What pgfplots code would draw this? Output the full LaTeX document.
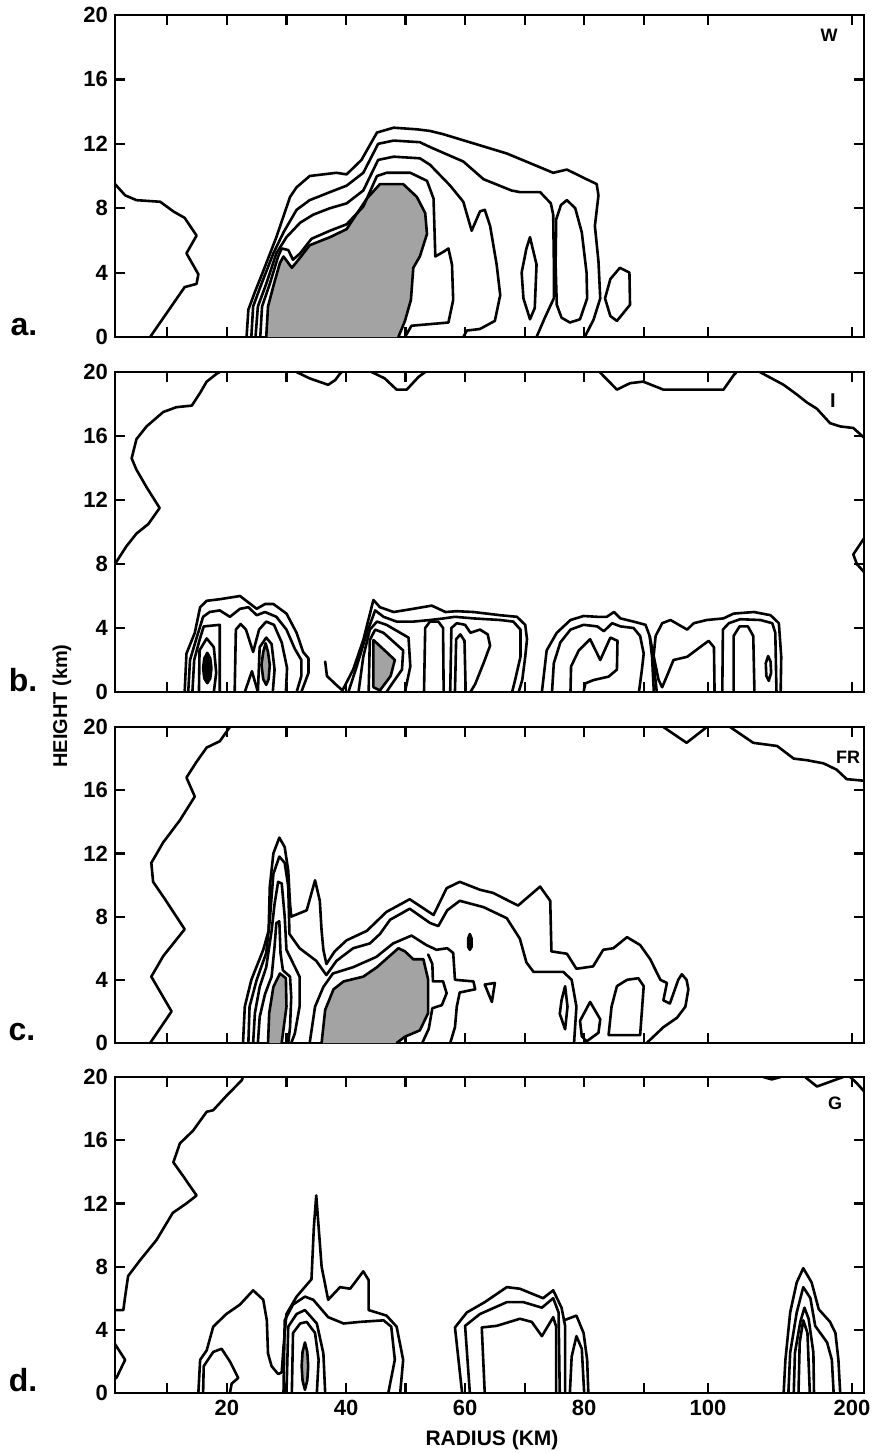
\documentclass[border=0pt]{standalone}
\usepackage{pgfplots}
\pgfplotsset{compat=1.18}
\usepackage{fontspec}
\setmainfont{Liberation Sans}
\begin{document}
\begin{tikzpicture}
\path[use as bounding box] (0pt,0pt) rectangle (438.5pt,-726.5pt);
\pgfplotsset{
 ct/.style={black, line width=1.3pt, line join=round, line cap=round},
 sh/.style={ct, fill=black!36},
 dk/.style={ct, fill=black},
 panel/.style={scale only axis, width=374.5pt, xmin=1.2, xmax=127, ymin=0, ymax=20, anchor=north west,
   axis line style={line width=1.1pt}, tick style={black, line width=1.1pt}, major tick length=5pt,
   tick align=inside, xtick pos=both, ytick pos=both,
   xtick={10,20,30,40,50,60,70,80,90,100.8,125}, xticklabels={},
   ytick={0,4,8,12,16,20}, yticklabels={0,4,8,12,16,20},
   yticklabel style={font=\fontsize{11}{11}\selectfont\bfseries},
   xticklabel style={font=\fontsize{11}{11}\selectfont\bfseries},
   /pgf/number format/assume math mode=true},
}
% ---------------- panel a (W)
\begin{axis}[panel, at={(57.5pt,-7.5pt)}, height=161pt]
\addplot[ct] coordinates {(1.2,9.5)(2.9,8.8)(4.8,8.5)(8.8,8.4)(11.0,7.8)(12.9,7.4)(14.9,6.3)(13.2,5.2)(15.2,3.9)(14.9,3.3)(12.9,3.1)(7.1,0)};
\addplot[sh] coordinates {(26.6,0)(26.9,1.9)(27.9,3.3)(28.9,4.6)(29.5,5.0)(30.9,4.3)(31.8,4.7)(33.9,5.7)(37.3,6.2)(40.1,6.7)(43.5,8.6)(45.7,9.5)(49.6,9.5)(51.9,8.7)(53.3,7.7)(53.6,6.4)(52.4,5.0)(51.3,4.3)(50.9,2.3)(49.9,1.0)(48.8,0)};
\addplot[ct] coordinates {(23.3,0)(23.6,1.7)(24.7,2.8)(26.1,4.1)(28.3,6.2)(30.6,8.7)(31.7,9.3)(33.9,10.0)(38.4,10.2)(40.1,10.1)(42.6,11.0)(45.2,12.7)(48.0,13.0)(51.9,12.9)(54.1,12.8)(56.3,12.6)(67.0,11.4)(74.8,10.2)(77.1,10.4)(80.4,9.8)(82.1,9.5)(82.4,8.8)(81.8,6.9)(82.4,4.7)(82.7,2.4)(81.6,1.1)(80.1,0)};
\addplot[ct] coordinates {(24.1,0)(24.4,1.9)(25.8,3.3)(27.8,5.2)(29.5,6.5)(31.7,7.9)(33.9,8.5)(37.3,9.0)(40.1,9.4)(42.9,10.2)(45.4,12.0)(48.0,12.2)(52.4,12.1)(54.1,11.8)(59.7,10.9)(63.1,9.8)(67.8,9.1)(69.2,9.0)(72.6,9.0)(74.4,8.3)(74.8,7.6)(74.9,4.9)(74.9,2.4)(73.4,1.2)(72.0,0)};
\addplot[ct] coordinates {(24.8,0)(25.2,1.9)(26.6,3.3)(28.3,5.2)(30.0,6.2)(32.3,7.1)(34.5,7.6)(37.3,8.0)(40.1,8.3)(42.9,9.1)(45.4,11.0)(48.0,11.2)(52.4,11.1)(54.1,10.7)(57.5,9.4)(59.7,8.4)(61.1,6.6)(62.5,7.8)(63.3,7.9)(64.2,6.9)(65.3,4.5)(65.9,2.6)(65.0,1.0)(62.5,0.5)(60.3,0.4)(59.7,0)};
\addplot[ct] coordinates {(25.6,0)(25.9,1.9)(27.2,3.3)(28.6,5.0)(29.2,5.5)(30.3,5.4)(31.1,4.8)(32.3,5.2)(34.2,6.1)(37.3,6.6)(40.1,7.0)(42.9,8.1)(45.2,10.0)(46.8,10.2)(50.8,10.2)(53.6,9.7)(54.7,8.6)(55.0,5.0)(56.4,5.3)(57.2,5.5)(57.8,4.5)(58.0,2.3)(57.2,0.9)(54.1,0.8)(51.0,0.7)(49.9,0)};
\addplot[ct] coordinates {(75.3,7.3)(76.1,8.2)(77.1,8.5)(78.5,8.0)(79.6,6.5)(80.4,4.0)(80.5,2.4)(79.3,1.1)(77.6,0.9)(76.2,1.2)(75.4,2.0)(75.2,4.5)(75.3,7.3)};
\addplot[ct] coordinates {(70.9,6.2)(72.0,4.5)(71.7,1.8)(70.9,1.1)(69.8,2.4)(69.5,4.0)(70.3,5.5)(70.9,6.2)};
\addplot[ct] coordinates {(86.0,4.3)(87.6,4.0)(87.7,2.0)(85.5,1.0)(84.4,1.3)(83.5,2.4)(84.4,3.6)(86.0,4.3)};
\end{axis}
% ---------------- panel b (I)
\begin{axis}[panel, at={(57.5pt,-186pt)}, height=160pt]
\addplot[ct] coordinates {(1.2,8.0)(3.1,9.1)(4.8,9.9)(6.8,10.5)(8.7,11.5)(6.5,12.8)(4.8,13.9)(4.0,14.6)(4.8,15.8)(6.5,16.6)(9.3,17.5)(11.5,17.8)(14.1,17.9)(15.5,18.7)(16.6,19.4)(18.3,19.9)(18.8,20)};
\addplot[ct] coordinates {(31.7,20)(33.9,19.6)(37.0,19.2)(38.2,19.5)(39.0,19.9)(39.3,20)};
\addplot[ct] coordinates {(44.3,20)(46.5,19.6)(48.5,18.9)(50.2,18.9)(52.2,19.7)(53.3,20)};
\addplot[ct] coordinates {(82.6,20)(85.5,18.9)(87.7,19.3)(89.9,19.4)(93.3,18.9)(103.4,18.9)(105.1,19.8)(105.6,20)};
\addplot[ct] coordinates {(109.5,20)(113.5,19.2)(115.7,18.6)(117.4,18.1)(119.1,17.7)(121.3,16.8)(123.0,16.6)(125.2,16.5)(127,15.9)};
\addplot[ct] coordinates {(127,9.6)(125.2,8.6)(125.8,8.0)(127,7.5)};
% cluster 1
\addplot[ct] coordinates {(12.9,0)(13.2,2.4)(14.6,3.7)(15.5,5.3)(16.6,5.7)(18.8,5.8)(22.2,6.0)(23.6,5.6)(25.0,5.2)(26.4,5.5)(27.8,5.5)(30.0,4.9)(31.7,3.7)(32.8,2.5)(33.7,2.1)(33.7,1.2)(32.8,0.3)(32.5,0)};
\addplot[ct] coordinates {(13.5,0)(13.8,2.0)(15.0,3.5)(16.0,4.7)(17.1,5.0)(18.8,5.1)(20.5,4.7)(22.2,5.2)(23.6,5.3)(25.0,4.8)(26.4,5.0)(28.3,4.7)(30.0,3.9)(31.4,2.7)(32.5,2.0)(32.5,1.0)(31.7,0)};
\addplot[ct] coordinates {(14.2,0)(14.5,2.0)(15.4,3.25)(16.1,4.1)(18.8,4.2)(18.8,0)};
\addplot[ct] coordinates {(15.3,0)(15.4,2.6)(16.6,3.35)(17.8,2.8)(18.2,1.2)(17.8,0)};
\addplot[dk] coordinates {(16.7,2.45)(17.2,2.1)(17.4,1.5)(17.2,0.85)(16.7,0.55)(16.2,0.85)(16.0,1.5)(16.2,2.1)(16.7,2.45)};
\addplot[ct] coordinates {(21.3,0)(21.5,3.9)(22.3,4.25)(23.2,3.9)(24.4,2.5)(25.4,3.9)(26.6,4.4)(27.9,4.2)(29.2,3.1)(30.1,1.5)(29.9,0)};
\addplot[ct] coordinates {(25.2,0)(25.5,2.8)(26.6,3.4)(27.5,3.0)(28.0,1.4)(27.7,0)};
\addplot[sh] coordinates {(26.5,3.05)(26.9,2.5)(27.2,1.7)(27.0,0.8)(26.6,0.45)(26.1,0.8)(25.8,1.7)(26.1,2.5)(26.5,3.05)};
\addplot[ct] coordinates {(23.0,0)(24.2,1.3)(25.2,0)};
% cluster 2
\addplot[ct] coordinates {(36.5,1.9)(36.8,1.0)(38.2,0.5)(39.4,0.1)(41.2,1.4)(42.9,3.25)(44.6,5.75)(45.7,5.3)(48.0,5.0)(51.3,5.2)(54.4,5.4)(56.7,5.0)(58.6,5.05)(61.4,5.0)(65.9,4.8)(68.7,4.7)(70.1,4.2)(70.4,3.3)(70.1,2.2)(69.6,0.75)(69.0,0)};
\addplot[ct] coordinates {(40.4,0)(41.8,1.6)(43.5,3.7)(44.9,5.1)(46.3,4.7)(48.5,4.4)(51.3,4.4)(54.1,4.5)(56.4,4.6)(58.3,4.7)(61.4,4.6)(65.9,4.5)(68.1,4.4)(69.3,3.9)(69.3,2.2)(68.4,0.75)(67.9,0)};
\addplot[ct] coordinates {(42.1,0)(42.9,2.2)(44.0,3.9)(45.2,4.4)(46.8,4.2)(49.1,3.7)(50.5,3.4)(50.8,1.6)(49.9,0)};
\addplot[ct] coordinates {(43.8,0)(44.0,3.25)(44.9,3.9)(46.3,3.7)(49.6,2.6)(49.4,1.4)(47.7,0.5)(46.8,0)};
\addplot[sh] coordinates {(44.6,0.3)(44.6,3.25)(46.5,2.6)(48.2,2.0)(47.5,1.0)(45.7,0.1)(44.6,0.3)};
\addplot[ct] coordinates {(53.1,0)(53.3,4.0)(54.1,4.4)(55.5,4.4)(56.3,4.0)(56.4,0)};
\addplot[ct] coordinates {(57.5,0)(57.7,4.0)(58.6,4.3)(60.0,4.2)(60.9,3.7)(62.5,3.9)(63.8,3.6)(64.2,2.9)(63.1,1.8)(61.7,0.5)(60.9,0)};
\addplot[ct] coordinates {(58.3,0)(58.5,3.3)(59.2,3.6)(59.9,3.2)(60.1,0)};
% cluster 3
\addplot[ct] coordinates {(72.9,0)(73.7,2.6)(75.4,3.7)(77.7,4.5)(79.9,4.75)(82.2,4.7)(83.8,4.7)(85.0,5.0)(86.1,4.6)(88.3,4.4)(90.3,4.2)(91.0,3.5)(91.4,2.2)(91.7,0)};
\addplot[ct] coordinates {(74.6,0)(74.9,1.8)(76.0,3.1)(77.7,3.9)(79.9,4.2)(82.2,4.1)(83.3,3.8)(84.7,4.3)(86.1,4.1)(88.3,4.0)(89.4,3.5)(90.0,2.4)(89.7,1.4)(89.2,0)};
\addplot[ct] coordinates {(77.7,0)(77.8,1.6)(79.1,2.6)(81.0,3.3)(82.7,2.0)(84.4,3.4)(85.6,3.2)(85.5,1.4)(84.1,0.96)(81.6,0.75)(80.2,0.54)(79.9,0)};
% cluster 4
\addplot[ct] coordinates {(92.2,0)(91.6,2.0)(92.0,3.5)(93.1,4.3)(94.5,4.5)(97.3,3.9)(98.4,4.3)(100.6,4.5)(103.4,4.6)(105.1,4.9)(108.5,5.0)(111.3,4.8)(112.7,4.3)(113.1,2.2)(113.0,0)};
\addplot[ct] coordinates {(91.0,3.5)(91.7,2.2)(92.5,0.75)(93.1,0.3)(93.9,1.0)(95.0,2.0)(97.3,2.2)(100.9,3.2)(101.8,2.8)(101.9,0)};
\addplot[ct] coordinates {(103.2,0)(103.3,3.9)(104.3,4.3)(106.2,4.55)(109.6,4.5)(111.6,4.3)(112.1,3.7)(112.3,0)};
\addplot[ct] coordinates {(105.1,0)(105.1,3.5)(106.1,4.1)(107.5,4.1)(108.4,3.5)(108.6,0)};
\addplot[ct] coordinates {(110.9,2.25)(111.3,1.9)(111.4,1.2)(111.0,0.7)(110.6,1.0)(110.5,1.8)(110.9,2.25)};
\end{axis}
% ---------------- panel c (FR)
\begin{axis}[panel, at={(57.5pt,-363.5pt)}, height=158pt]
\addplot[ct] coordinates {(7.1,0)(10.7,2.0)(7.3,4.2)(9.3,5.5)(12.9,7.2)(9.6,9.1)(7.6,10.2)(7.3,11.4)(9.3,12.7)(12.1,14.1)(14.6,15.6)(13.2,16.8)(14.9,17.8)(16.6,18.7)(18.8,19.1)(20.5,20)};
\addplot[ct] coordinates {(93.3,20)(97.2,19.0)(100.6,20)};
\addplot[ct] coordinates {(104.5,20)(108.4,19.0)(112.4,18.8)(115.2,18.0)(117.4,17.9)(120.2,17.7)(122.4,17.3)(124.1,16.7)(127,16.6)};
\addplot[sh] coordinates {(26.9,0)(27.1,1.9)(27.8,3.55)(28.9,4.4)(29.9,4.1)(30.0,2.3)(29.4,0.6)(29.2,0)};
\addplot[sh] coordinates {(35.9,0)(36.5,2.1)(37.9,3.4)(39.6,3.9)(42.9,4.2)(45.2,4.8)(48.8,6.0)(49.9,5.8)(51.3,5.3)(53.0,5.3)(53.8,4.0)(53.8,1.9)(52.4,0.8)(49.9,0.4)(48.5,0)};
\addplot[ct] coordinates {(22.7,0)(23.0,2.3)(24.1,4.0)(26.1,5.9)(27.0,7.1)(27.2,9.9)(27.8,12.0)(28.8,13.0)(29.7,12.4)(30.3,10.9)(30.6,8.8)(30.8,8.0)(33.4,8.4)(34.8,10.3)(35.6,9.0)(35.9,7.1)(36.2,5.9)(36.7,5.0)(38.1,5.8)(40.1,6.5)(43.5,7.1)(46.8,8.3)(50.7,9.1)(54.7,8.1)(56.9,9.8)(59.1,10.2)(62.5,9.7)(64.7,9.5)(68.9,8.7)(72.6,9.9)(74.3,9.0)(74.5,5.8)(77.1,5.65)(78.7,4.7)(81.5,4.85)(83.2,5.9)(84.9,6.0)(87.2,6.7)(89.4,6.2)(91.1,5.3)(92.8,4.0)(93.9,3.8)(93.3,2.7)(94.4,2.5)(95.8,4.0)(96.4,4.35)(97.2,4.0)(97.5,3.4)(97.0,2.3)(95.6,1.6)(93.3,1.0)(90.5,0)};
\addplot[ct] coordinates {(23.6,0)(23.8,2.3)(25.0,4.0)(26.6,5.7)(27.2,7.8)(27.8,10.7)(28.8,11.8)(29.7,11.4)(30.3,9.9)(30.5,6.9)(32.2,6.0)(35.0,5.2)(36.7,4.3)(38.4,5.2)(41.2,6.0)(44.0,6.3)(45.7,6.9)(47.4,7.8)(50.7,8.5)(54.1,7.6)(55.5,7.4)(57.0,8.4)(59.1,9.0)(63.1,8.6)(67.0,7.9)(69.2,6.6)(70.3,5.1)(71.5,4.5)(76.5,4.5)(77.9,4.0)(78.7,2.3)(78.3,0)};
\addplot[ct] coordinates {(24.4,0)(24.7,1.9)(25.5,3.55)(26.6,4.8)(27.5,7.1)(28.0,8.8)(28.6,10.2)(29.2,10.1)(29.7,8.0)(30.0,5.9)(32.2,4.2)(32.2,2.3)(31.4,0.6)(30.8,0)};
\addplot[ct] coordinates {(25.2,0)(25.5,1.65)(26.4,3.1)(27.5,4.2)(28.0,6.1)(28.3,7.6)(28.8,7.7)(29.0,5.7)(29.4,4.6)(30.6,4.2)(30.8,2.9)(30.6,1.0)(30.3,0)};
\addplot[ct] coordinates {(33.9,0)(34.8,2.3)(36.2,3.55)(37.8,4.4)(41.2,4.8)(45.1,5.45)(47.9,6.3)(51.0,6.8)(53.5,6.2)(55.2,5.9)(57.0,6.0)(58.0,5.7)(58.3,4.0)(61.4,3.9)(61.7,3.4)(59.1,3.2)(58.6,2.3)(58.3,1.0)(57.5,0)};
\addplot[ct] coordinates {(52.8,0)(53.9,0.9)(54.5,2.2)(56.1,2.4)(56.9,3.15)(56.3,3.9)(54.6,3.9)(54.5,5.0)(53.8,5.6)};
\addplot[ct] coordinates {(76.2,2.7)(76.8,3.6)(77.2,2.3)(76.8,0.87)(75.9,1.85)(76.2,2.7)};
\addplot[ct] coordinates {(79.3,1.4)(81.0,2.6)(82.7,1.5)(82.4,0.65)(80.4,0.1)(79.6,0.43)(79.3,1.4)};
\addplot[ct] coordinates {(84.1,0.5)(84.6,2.3)(85.5,3.6)(87.2,4.0)(89.1,4.1)(90.0,3.6)(89.4,0.5)(84.1,0.5)};
\addplot[dk] coordinates {(60.8,6.9)(61.1,6.6)(61.1,6.1)(60.8,5.9)(60.5,6.1)(60.5,6.6)(60.8,6.9)};
\addplot[ct] coordinates {(63.3,3.7)(65.0,3.8)(64.5,2.6)(63.3,3.7)};
\end{axis}
% ---------------- panel d (G)
\begin{axis}[panel, at={(57.5pt,-538.5pt)}, height=158pt, xticklabels={,20,,40,,60,,80,,100,200}]
\addplot[ct] coordinates {(1.2,5.25)(2.6,5.25)(2.9,6.1)(3.4,7.4)(5.4,8.4)(8.2,9.7)(10.9,11.4)(13.2,12.0)(14.9,12.5)(12.7,13.7)(11.0,14.6)(12.1,15.8)(14.3,16.6)(16.6,17.8)(17.7,17.9)(19.9,18.8)(22.5,19.8)(22.7,20)};
\addplot[ct] coordinates {(1.2,3.1)(2.9,2.1)(1.5,1.0)(1.2,0.9)};
\addplot[ct] coordinates {(15.2,0)(15.5,2.1)(16.6,2.7)(17.7,4.2)(19.9,5.0)(22.2,5.6)(24.4,6.5)(26.1,5.9)(26.7,4.6)(26.9,2.5)(27.5,1.7)(28.6,1.2)(29.2,1.3)(29.5,2.9)(30.0,5.0)(31.7,6.1)(34.2,7.2)(34.6,10.5)(35.0,12.5)(35.4,10.5)(35.9,8.0)(37.0,5.9)(39.0,6.7)(40.7,6.6)(42.9,7.7)(43.8,7.15)(43.8,5.25)(46.8,4.9)(48.5,4.2)(49.6,2.1)(49.1,0)};
\addplot[ct] coordinates {(16.0,0)(16.1,1.7)(17.7,2.6)(19.1,2.8)(20.5,2.0)(21.9,0.95)(20.8,0.6)(20.5,0)};
\addplot[ct] coordinates {(29.5,0)(29.7,4.6)(31.1,5.6)(33.1,6.1)(34.5,5.9)(37.0,4.8)(39.6,4.4)(42.3,4.5)(46.3,4.6)(47.6,4.2)(48.2,2.1)(47.1,0)};
\addplot[ct] coordinates {(30.0,0)(30.3,4.2)(31.7,5.0)(33.1,5.25)(35.1,4.4)(36.2,2.5)(36.5,0)};
\addplot[ct] coordinates {(30.9,0)(31.1,3.8)(32.3,4.4)(33.4,4.5)(34.8,3.8)(35.4,2.1)(35.1,0)};
\addplot[sh] coordinates {(33.1,3.2)(33.5,2.6)(33.65,1.7)(33.5,0.8)(33.1,0.2)(32.7,0.8)(32.55,1.7)(32.7,2.6)(33.1,3.2)};
\addplot[ct] coordinates {(59.5,0)(58.3,4.15)(60.3,5.1)(63.3,5.75)(67.0,6.7)(69.2,6.6)(73.1,6.0)(74.8,6.5)(76.2,5.4)(76.8,4.25)(76.8,0)};
\addplot[ct] coordinates {(60.8,0)(60.0,4.25)(62.5,5.0)(67.0,5.75)(69.8,5.75)(72.9,5.4)(74.8,6.0)(75.7,5.1)(75.9,0)};
\addplot[ct] coordinates {(63.3,0)(62.8,4.15)(65.3,4.25)(69.2,4.7)(71.2,4.5)(72.9,3.6)(74.8,4.8)(75.3,4.2)(75.3,0)};
\addplot[ct] coordinates {(76.6,4.6)(78.7,4.9)(79.9,3.8)(80.5,2.1)(80.7,0)};
\addplot[ct] coordinates {(77.6,0)(77.9,2.3)(78.7,3.6)(79.6,2.8)(80.0,0)};
\addplot[ct] coordinates {(113.5,0)(113.8,2.1)(114.6,5.1)(115.7,7.0)(116.8,7.9)(118.2,7.0)(119.4,5.3)(121.3,4.5)(122.2,3.8)(122.7,2.1)(123.0,0)};
\addplot[ct] coordinates {(114.3,0)(114.6,2.55)(115.7,5.1)(116.8,6.7)(118.0,6.0)(118.8,4.25)(120.8,3.2)(121.6,2.1)(121.9,0)};
\addplot[ct] coordinates {(115.2,0)(115.4,2.55)(116.3,4.5)(117.0,5.4)(117.7,4.7)(118.5,2.55)(118.6,0)};
\addplot[ct] coordinates {(116.0,0)(116.2,3.2)(116.8,4.6)(117.5,3.8)(117.9,0)};
\addplot[ct] coordinates {(110.1,20)(111.5,19.85)(113.0,20)};
\addplot[ct] coordinates {(117.1,20)(119.1,19.4)(121.3,19.7)(123.5,20)};
\addplot[ct] coordinates {(124.7,20)(125.8,19.6)(127,19.1)};
\end{axis}
% ---------------- texts
\begin{scope}[every node/.style={font=\bfseries}]
\node[font=\fontsize{16}{16}\selectfont\bfseries] at (12pt,-163.5pt) {a.};
\node[font=\fontsize{16}{16}\selectfont\bfseries] at (11.5pt,-340pt) {b.};
\node[font=\fontsize{16}{16}\selectfont\bfseries] at (11pt,-516pt) {c.};
\node[font=\fontsize{16}{16}\selectfont\bfseries] at (11.5pt,-690pt) {d.};
\node[font=\fontsize{9}{9}\selectfont\bfseries] at (414.5pt,-17.5pt) {W};
\node[font=\fontsize{10}{10}\selectfont\bfseries\rmfamily] at (416.5pt,-200.5pt) {I};
\node[font=\fontsize{9}{9}\selectfont\bfseries] at (424pt,-378.5pt) {FR};
\node[font=\fontsize{9}{9}\selectfont\bfseries] at (417.5pt,-551.5pt) {G};
\node[font=\fontsize{10}{10}\selectfont\bfseries, rotate=90] at (31pt,-353pt) {HEIGHT (km)};
\node[font=\fontsize{10.5}{10.5}\selectfont\bfseries] at (246pt,-720pt) {RADIUS (KM)};
\end{scope}
\end{tikzpicture}
\end{document}
